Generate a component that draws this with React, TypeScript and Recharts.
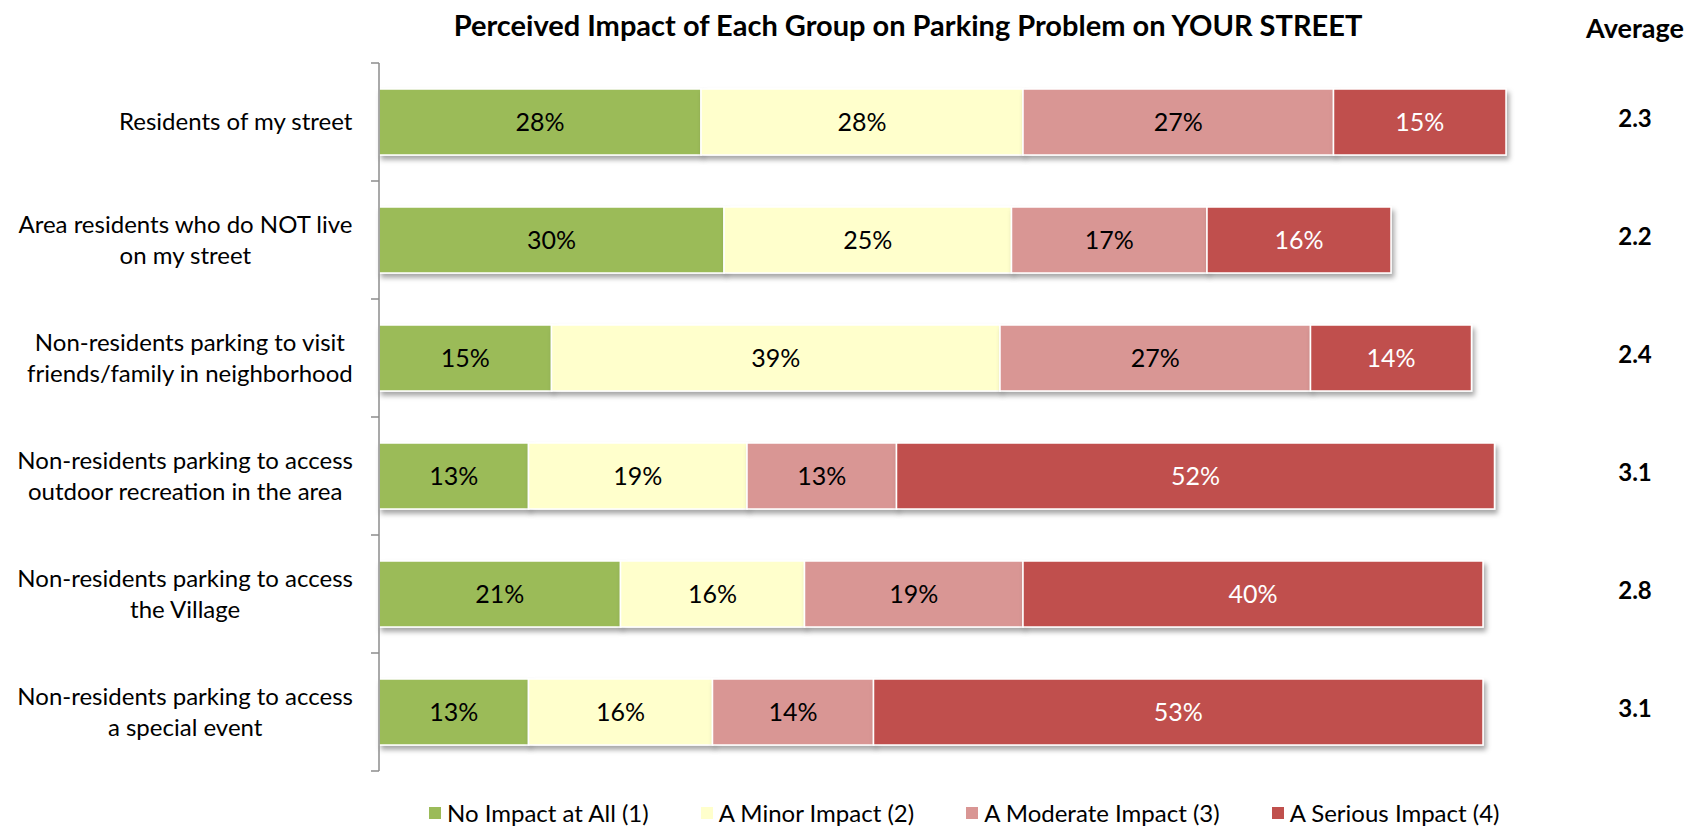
import React from 'react';
import { BarChart, Bar, XAxis, YAxis, LabelList } from 'recharts';

const CATEGORIES = [
  'Residents of my street',
  'Area residents who do NOT live\non my street',
  'Non-residents parking to visit\nfriends/family in neighborhood',
  'Non-residents parking to access\noutdoor recreation in the area',
  'Non-residents parking to access\nthe Village',
  'Non-residents parking to access\na special event',
];
const NO_IMPACT = [28, 30, 15, 13, 21, 13];
const MINOR_IMPACT = [28, 25, 39, 19, 16, 16];
const MODERATE_IMPACT = [27, 17, 27, 13, 19, 14];
const SERIOUS_IMPACT = [15, 16, 14, 52, 40, 53];
const AVERAGES = ['2.3', '2.2', '2.4', '3.1', '2.8', '3.1'];
const SERIES_NAMES = ['No Impact at All (1)', 'A Minor Impact (2)', 'A Moderate Impact (3)', 'A Serious Impact (4)'];
const SERIES_KEYS = ['none', 'minor', 'moderate', 'serious'];
const SERIES_COLORS = ['#9BBB59', '#FFFFCC', '#D99694', '#C0504D'];
const LABEL_COLORS = ['#000000', '#000000', '#000000', '#FFFFFF'];
const TITLE = 'Perceived Impact of Each Group on Parking Problem on YOUR STREET';
const AVG_HEADER = 'Average';

const data = CATEGORIES.map((name, i) => ({
  name,
  none: NO_IMPACT[i],
  minor: MINOR_IMPACT[i],
  moderate: MODERATE_IMPACT[i],
  serious: SERIOUS_IMPACT[i],
}));

const W = 1704;
const H = 828;
const M_TOP = 63;
const M_BOTTOM = 57;
const LEFT_AXIS_W = 379;
const RIGHT_AXIS_W = 175;
const FONT = 'Lato, "Open Sans", sans-serif';
const CAT_FONT_SIZE = 24;
const BAND = (H - M_TOP - M_BOTTOM) / CATEGORIES.length;

let ctx: CanvasRenderingContext2D | null = null;
function measure(text: string): number {
  if (!ctx) {
    const c = document.createElement('canvas');
    ctx = c.getContext('2d');
  }
  if (!ctx) return text.length * CAT_FONT_SIZE * 0.5;
  ctx.font = `${CAT_FONT_SIZE}px Lato`;
  return ctx.measureText(text).width;
}

const CategoryTick = (props: any) => {
  const { x, y, payload, index } = props;
  const lines = String(payload.value).split('\n');
  const maxW = Math.max(...lines.map(measure));
  const cx = x - 26 - maxW / 2;
  const half = payload && typeof payload.offset === 'number' && payload.offset > 0 ? payload.offset : BAND / 2;
  return (
    <g>
      <line x1={x - 8} x2={x} y1={y - half} y2={y - half} stroke="#8c8c8c" strokeWidth={1.5} />
      {index === CATEGORIES.length - 1 && (
        <line x1={x - 8} x2={x} y1={y + half} y2={y + half} stroke="#8c8c8c" strokeWidth={1.5} />
      )}
      {lines.map((l, i) => (
        <text
          key={i}
          x={cx}
          y={y + 8 + (i - (lines.length - 1) / 2) * 31}
          textAnchor="middle"
          fontFamily={FONT}
          fontSize={CAT_FONT_SIZE}
          fill="#000"
        >
          {l}
        </text>
      ))}
    </g>
  );
};

const AvgTick = (props: any) => {
  const { x, y, index } = props;
  return (
    <text x={x + 106} y={y + 5} textAnchor="middle" fontFamily={FONT} fontWeight="bold" fontSize={24} fill="#000">
      {AVERAGES[index]}
    </text>
  );
};

const ShadowRect = (props: any) => {
  const { x, y, width, height, fill } = props;
  if (!width || width <= 0) return null;
  return (
    <rect x={x} y={y} width={width} height={height} fill={fill} stroke="#ffffff" strokeWidth={1.5} filter="url(#barShadow)" />
  );
};

export default function App() {
  return (
    <div style={{ position: 'absolute', left: 0, top: 0, width: W, height: H, background: '#fff' }}>
      <BarChart
        width={W}
        height={H}
        data={data}
        layout="vertical"
        margin={{ top: M_TOP, right: 0, bottom: M_BOTTOM, left: 0 }}
        barSize={66}
      >
        <defs>
          <filter id="barShadow" x="-10%" y="-30%" width="130%" height="170%">
            <feDropShadow dx="2.5" dy="4" stdDeviation="2.5" floodColor="#000" floodOpacity="0.35" />
          </filter>
        </defs>
        <XAxis type="number" domain={[0, 100]} hide />
        <YAxis
          yAxisId="cat"
          type="category"
          dataKey="name"
          width={LEFT_AXIS_W}
          axisLine={{ stroke: '#8c8c8c', strokeWidth: 1.5 }}
          tickLine={false}
          tickSize={0}
          tickMargin={0}
          interval={0}
          tick={CategoryTick}
        />
        <YAxis
          yAxisId="avg"
          orientation="right"
          type="category"
          dataKey="name"
          width={RIGHT_AXIS_W}
          axisLine={false}
          tickLine={false}
          tickSize={0}
          tickMargin={0}
          interval={0}
          tick={AvgTick}
        />
        {SERIES_KEYS.map((k, i) => (
          <Bar
            key={k}
            dataKey={k}
            name={SERIES_NAMES[i]}
            stackId="s"
            yAxisId="cat"
            fill={SERIES_COLORS[i]}
            isAnimationActive={false}
            shape={ShadowRect}
          >
            <LabelList
              dataKey={k}
              position="center"
              fill={LABEL_COLORS[i]}
              fontFamily={FONT}
              fontSize={25}
              formatter={(v: any) => `${v}%`}
            />
          </Bar>
        ))}
      </BarChart>
      <svg width={W} height={H} style={{ position: 'absolute', left: 0, top: 0, pointerEvents: 'none' }}>
        <text x={908} y={36} textAnchor="middle" fontFamily={FONT} fontWeight="bold" fontSize={29} fill="#000">
          {TITLE}
        </text>
        <text x={1635} y={38} textAnchor="middle" fontFamily={FONT} fontWeight="bold" fontSize={27} fill="#000">
          {AVG_HEADER}
        </text>
      </svg>
      <div
        style={{
          position: 'absolute',
          left: 429,
          top: 799,
          display: 'flex',
          alignItems: 'center',
          gap: 52,
          fontFamily: FONT,
          fontSize: 24,
          lineHeight: '28px',
          whiteSpace: 'nowrap',
        }}
      >
        {SERIES_NAMES.map((n, i) => (
          <div key={n} style={{ display: 'flex', alignItems: 'center' }}>
            <span style={{ display: 'inline-block', width: 12, height: 12, background: SERIES_COLORS[i], marginRight: 6 }} />
            <span>{n}</span>
          </div>
        ))}
      </div>
    </div>
  );
}
